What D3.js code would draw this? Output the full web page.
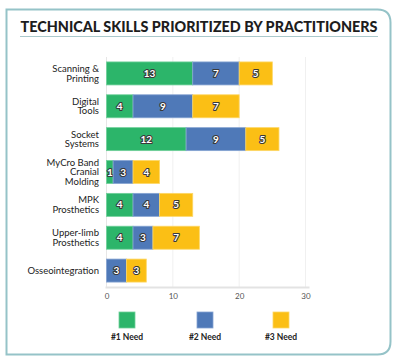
<!DOCTYPE html>
<html>
<head>
<meta charset="utf-8">
<script src="https://cdn.jsdelivr.net/npm/d3@7"></script>
<style>
  body { margin: 0; background: #fff; }
  svg { display: block; font-family: Lato, "Noto Sans", sans-serif; }
</style>
</head>
<body>
<div id="chart"></div>
<script>
// Data
const categories = [
  ['Scanning &', 'Printing'],
  ['Digital', 'Tools'],
  ['Socket', 'Systems'],
  ['MyCro Band', 'Cranial', 'Molding'],
  ['MPK', 'Prosthetics'],
  ['Upper-limb', 'Prosthetics'],
  ['Osseointegration']
];
const need1 = [13, 4, 12, 1, 4, 4, 0];
const need2 = [7, 9, 9, 3, 4, 3, 3];
const need3 = [5, 7, 5, 4, 5, 7, 3];
const seriesNames = ['#1 Need', '#2 Need', '#3 Need'];
const xTicks = [0, 10, 20, 30];

const colors = ['#2cb56a', '#4f79b8', '#fbbf15'];
const strokes = ['#6fd09a', '#86a4d2', '#fdd766'];

const W = 400, H = 361;
const svg = d3.select('#chart').append('svg')
  .attr('width', W)
  .attr('height', H);

// Frame: square on the left, rounded corners on the right
const fx0 = 6.5, fy0 = 9.5, fx1 = 390.5, fy1 = 354.5, r = 13;
svg.append('path')
  .attr('d', `M${fx0},${fy0} H${fx1 - r} Q${fx1},${fy0} ${fx1},${fy0 + r} V${fy1 - r} Q${fx1},${fy1} ${fx1 - r},${fy1} H${fx0} Z`)
  .attr('fill', 'none')
  .attr('stroke', '#95c3c8')
  .attr('stroke-width', 2);

// Title
svg.append('text')
  .attr('x', 199)
  .attr('y', 32)
  .attr('text-anchor', 'middle')
  .attr('textLength', 357)
  .attr('lengthAdjust', 'spacingAndGlyphs')
  .style('font-size', '15px')
  .style('font-weight', 900)
  .style('fill', '#1d1d1d')
  .text('TECHNICAL SKILLS PRIORITIZED BY PRACTITIONERS');

svg.append('line')
  .attr('x1', 20).attr('x2', 378)
  .attr('y1', 36.5).attr('y2', 36.5)
  .attr('stroke', '#aac9cc')
  .attr('stroke-width', 1);

// Scales
const x = d3.scaleLinear().domain([0, 30]).range([106.5, 305.5]);
const y = d3.scaleBand()
  .domain(d3.range(categories.length))
  .range([57, 287])
  .paddingInner(0.3)
  .paddingOuter(0.15);

// Grid
svg.append('g')
  .selectAll('line')
  .data(xTicks.slice(1))
  .join('line')
  .attr('x1', d => x(d)).attr('x2', d => x(d))
  .attr('y1', 57).attr('y2', 287)
  .attr('stroke', '#f0f0f0')
  .attr('stroke-width', 1);

svg.append('line')
  .attr('x1', x(0)).attr('x2', x(0))
  .attr('y1', 57).attr('y2', 287)
  .attr('stroke', '#e6e6e6')
  .attr('stroke-width', 1);

// X axis
const xAxis = svg.append('g')
  .attr('transform', 'translate(0,287.5)')
  .call(d3.axisBottom(x).tickValues(xTicks).tickSize(0).tickPadding(6));
xAxis.select('.domain')
  .attr('d', `M${x(0) - 1},0H${x(30) + 4}`)
  .attr('stroke', '#e3e3e3')
  .attr('stroke-width', 2);
xAxis.selectAll('text')
  .style('font-size', '8px')
  .style('fill', '#555')
  .style('font-family', 'Lato, sans-serif');

// Stacked bars
const stackData = categories.map((c, i) => ({ i, n1: need1[i], n2: need2[i], n3: need3[i] }));
const stack = d3.stack().keys(['n1', 'n2', 'n3'])(stackData);

const layers = svg.append('g')
  .selectAll('g')
  .data(stack)
  .join('g');

layers.selectAll('rect')
  .data((s, k) => s.map(d => ({ d, k })))
  .join('rect')
  .filter(o => o.d[1] > o.d[0])
  .attr('x', o => x(o.d[0]))
  .attr('y', o => y(o.d.data.i))
  .attr('width', o => x(o.d[1]) - x(o.d[0]))
  .attr('height', y.bandwidth())
  .attr('fill', o => colors[o.k])
  .attr('stroke', o => strokes[o.k])
  .attr('stroke-width', 0.8);

// Value labels
layers.selectAll('text')
  .data((s, k) => s.map(d => ({ d, k })).filter(o => o.d[1] > o.d[0]))
  .join('text')
  .attr('x', o => (x(o.d[0]) + x(o.d[1])) / 2)
  .attr('y', o => y(o.d.data.i) + y.bandwidth() / 2)
  .attr('dy', '0.36em')
  .attr('text-anchor', 'middle')
  .style('font-size', '10px')
  .style('font-weight', 700)
  .style('fill', '#fff')
  .style('stroke', '#3a3a3a')
  .style('stroke-width', 2.2)
  .style('paint-order', 'stroke')
  .style('stroke-linejoin', 'round')
  .text(o => o.d[1] - o.d[0]);

// Category labels
const lineH = 9.5;
const labels = svg.append('g')
  .selectAll('text')
  .data(categories)
  .join('text')
  .attr('x', 99)
  .attr('y', (c, i) => y(i) + y.bandwidth() / 2 - (c.length - 1) * lineH / 2)
  .attr('text-anchor', 'end')
  .style('font-size', '9.5px')
  .style('fill', '#222');
labels.selectAll('tspan')
  .data(c => c)
  .join('tspan')
  .attr('x', 99)
  .attr('dy', (t, j) => j === 0 ? '0.35em' : lineH)
  .text(t => t);

// Legend
const legendX = [127, 205, 281];
const legend = svg.append('g')
  .selectAll('g')
  .data(seriesNames)
  .join('g')
  .attr('transform', (d, i) => `translate(${legendX[i]},0)`);
legend.append('rect')
  .attr('x', -8).attr('y', 312)
  .attr('width', 16).attr('height', 16)
  .attr('fill', (d, i) => colors[i])
  .attr('stroke', (d, i) => strokes[i])
  .attr('stroke-width', 0.8);
legend.append('text')
  .attr('y', 340)
  .attr('text-anchor', 'middle')
  .style('font-size', '8.5px')
  .style('font-weight', 700)
  .style('fill', '#222')
  .text(d => d);
</script>
</body>
</html>
